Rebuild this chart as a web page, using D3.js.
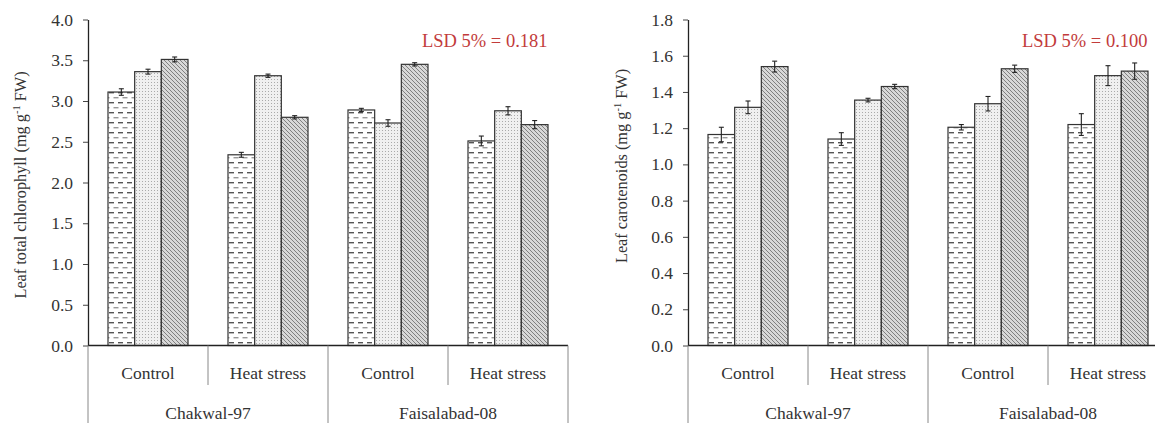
<!DOCTYPE html>
<html><head><meta charset="utf-8">
<script src="https://cdn.jsdelivr.net/npm/d3@7"></script>
<style>body{margin:0;background:#fff}svg{display:block}</style>
</head><body>
<svg id="c" width="1155" height="423"></svg>
<script>
const treatments = ["Control","Heat stress","Control","Heat stress"];
const cultivars = ["Chakwal-97","Faisalabad-08"];
const series = ["s1","s2","s3"];
const chlValues = [[3.11,3.36,3.51],[2.34,3.31,2.80],[2.89,2.73,3.45],[2.51,2.88,2.71]];
const chlErrors = [[0.04,0.03,0.03],[0.03,0.02,0.02],[0.02,0.04,0.02],[0.06,0.05,0.05]];
const carValues = [[1.165,1.315,1.54],[1.14,1.355,1.43],[1.205,1.335,1.528],[1.22,1.49,1.515]];
const carErrors = [[0.04,0.035,0.03],[0.035,0.01,0.012],[0.015,0.04,0.02],[0.06,0.055,0.045]];
const chlTicks = [0,0.5,1,1.5,2,2.5,3,3.5,4];
const carTicks = [0,0.2,0.4,0.6,0.8,1.0,1.2,1.4,1.6,1.8];

const svg = d3.select("#c");
const defs = svg.append("defs");
const p1 = defs.append("pattern").attr("id","p1").attr("patternUnits","userSpaceOnUse").attr("width",9).attr("height",10);
p1.append("rect").attr("width",9).attr("height",10).attr("fill","#fff");
p1.append("rect").attr("x",1).attr("y",2).attr("width",5).attr("height",1.4).attr("fill","#555");
p1.append("rect").attr("x",5.5).attr("y",7).attr("width",5).attr("height",1.4).attr("fill","#999");
p1.append("rect").attr("x",-3.5).attr("y",7).attr("width",5).attr("height",1.4).attr("fill","#999");
const p2 = defs.append("pattern").attr("id","p2").attr("patternUnits","userSpaceOnUse").attr("width",3).attr("height",3);
p2.append("rect").attr("width",3).attr("height",3).attr("fill","#f0f0f0");
p2.append("rect").attr("x",1).attr("y",1).attr("width",1).attr("height",1).attr("fill","#aaa");
const p3 = defs.append("pattern").attr("id","p3").attr("patternUnits","userSpaceOnUse").attr("width",4).attr("height",4);
p3.append("rect").attr("width",4).attr("height",4).attr("fill","#d8d8d8");
p3.append("path").attr("d","M-1,-1 L5,5 M-1,3 L1,5 M3,-1 L5,1").attr("stroke","#808080").attr("stroke-width",1);
const fills = ["url(#p1)","url(#p2)","url(#p3)"];

const font = "Liberation Serif";

function panel(x0, values, errors, ticks, ymax, ylabel, lsd, labelX, labelY) {
  const top = 19.5, bottom = 345.5;
  const g = svg.append("g");
  const x = d3.scaleBand().domain(d3.range(4)).range([x0, x0+480]);
  const y = d3.scaleLinear().domain([0, ymax]).range([bottom, top]);
  const xs = d3.scaleBand().domain(series).range([0, 80]);

  values.forEach((vals, i) => {
    const gg = g.append("g").attr("transform", `translate(${x(i)+20},0)`);
    vals.forEach((v, j) => {
      gg.append("rect").attr("x", xs(series[j])).attr("y", y(v))
        .attr("width", xs.bandwidth()).attr("height", y(0)-y(v))
        .attr("fill", fills[j]).attr("stroke", "#333").attr("stroke-width", 1.2);
      const cx = xs(series[j]) + xs.bandwidth()/2, e = errors[i][j];
      gg.append("line").attr("x1",cx).attr("x2",cx).attr("y1",y(v+e)).attr("y2",y(v-e)).attr("stroke","#222").attr("stroke-width",1.1);
      [v+e, v-e].forEach(t => gg.append("line").attr("x1",cx-2.5).attr("x2",cx+2.5).attr("y1",y(t)).attr("y2",y(t)).attr("stroke","#222").attr("stroke-width",1.1));
    });
  });

  const ya = g.append("g").attr("transform", `translate(${x0},0)`)
    .call(d3.axisLeft(y).tickValues(ticks).tickFormat(d3.format(".1f")).tickSize(5).tickSizeOuter(0));
  ya.select(".domain").attr("stroke","#222").attr("stroke-width",1.3);
  ya.selectAll(".tick line").attr("stroke","#444");
  ya.selectAll("text").attr("font-family",font).attr("font-size",17.5).attr("fill","#333").attr("x",-15);

  g.append("line").attr("x1",x0).attr("x2",x0+480).attr("y1",bottom).attr("y2",bottom).attr("stroke","#222").attr("stroke-width",1.5);
  [0,2,4].forEach(k => g.append("line").attr("x1",x0+k*120).attr("x2",x0+k*120).attr("y1",bottom).attr("y2",423).attr("stroke","#888").attr("stroke-width",1));
  [1,3].forEach(k => g.append("line").attr("x1",x0+k*120).attr("x2",x0+k*120).attr("y1",bottom).attr("y2",385).attr("stroke","#888").attr("stroke-width",1));
  treatments.forEach((t,i) => g.append("text").attr("x", x(i)+x.bandwidth()/2).attr("y",379)
    .attr("text-anchor","middle").attr("font-family",font).attr("font-size",17.5).attr("fill","#333").text(t));
  cultivars.forEach((c,i) => g.append("text").attr("x", x0+120+i*240).attr("y",419)
    .attr("text-anchor","middle").attr("font-family",font).attr("font-size",17.5).attr("fill","#333").text(c));

  const yl = g.append("text").attr("transform",`translate(${labelX},${labelY}) rotate(-90)`)
    .attr("text-anchor","middle").attr("font-family",font).attr("font-size",16.3).attr("fill","#333");
  yl.append("tspan").text(ylabel + " (mg g");
  yl.append("tspan").attr("dy",-6).attr("font-size",10.5).text("-1");
  yl.append("tspan").attr("dy",6).text(" FW)");

  g.append("text").attr("x", x0+334).attr("y", 47).attr("font-family",font).attr("font-size",18.5).attr("fill","#c23b3b").text(lsd);
}

panel(88, chlValues, chlErrors, chlTicks, 4.0, "Leaf total chlorophyll", "LSD 5% = 0.181", 26, 185);
panel(688, carValues, carErrors, carTicks, 1.8, "Leaf carotenoids", "LSD 5% = 0.100", 627, 166);
</script>
</body></html>
